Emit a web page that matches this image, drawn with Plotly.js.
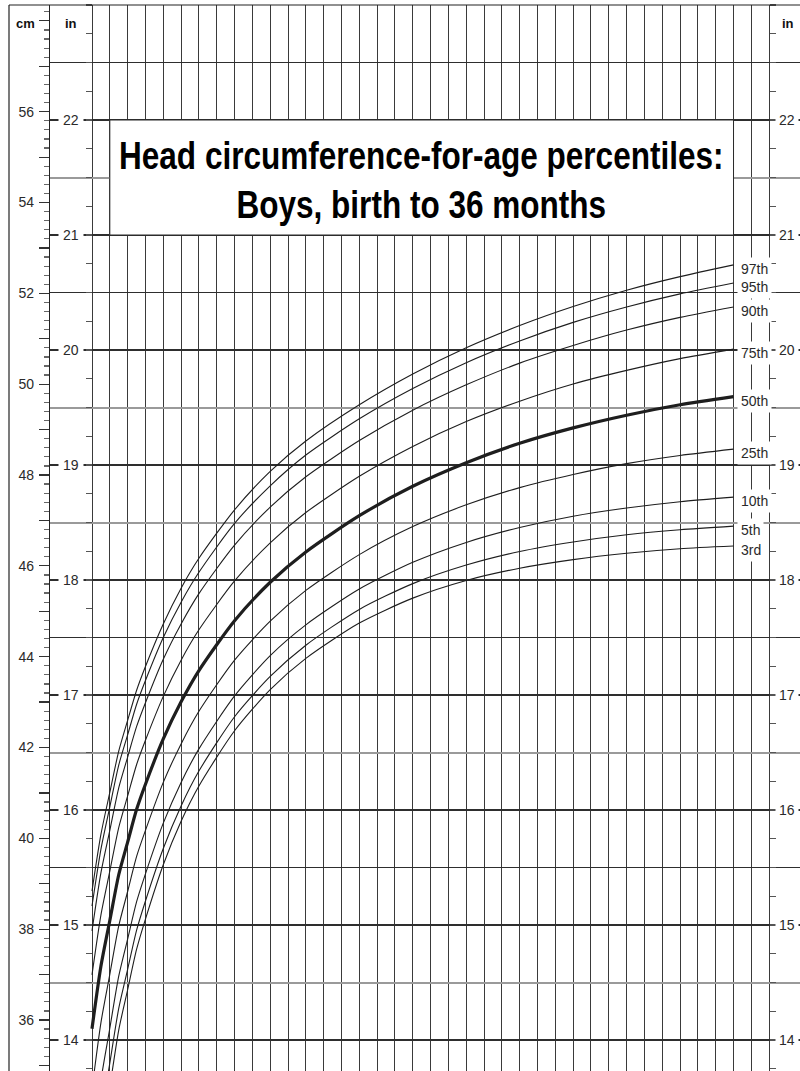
<!DOCTYPE html>
<html>
<head>
<meta charset="utf-8">
<script src="https://cdn.plot.ly/plotly-3.0.1.min.js"></script>
<style>
html,body{margin:0;padding:0;background:#fff;}
#chart{width:800px;height:1071px;}
</style>
</head>
<body>
<div id="chart"></div>
<script>
// Age in months
const ageMonths = [0,0.5,1,1.5,2,2.5,3,4,5,6,8,10,12,15,18,21,24,27,30,33,36];
// Head circumference percentiles (cm)
const p97 = [38.85,40.10,41.03,41.94,42.62,43.28,43.81,44.75,45.54,46.20,47.27,48.12,48.79,49.59,50.27,50.85,51.34,51.76,52.12,52.42,52.68];
const p95 = [38.52,39.77,40.71,41.63,42.30,42.97,43.50,44.45,45.23,45.89,46.97,47.80,48.48,49.28,49.95,50.52,51.00,51.41,51.75,52.04,52.28];
const p90 = [37.97,39.25,40.19,41.13,41.81,42.48,43.01,43.97,44.75,45.42,46.49,47.33,48.00,48.80,49.47,50.03,50.51,50.90,51.24,51.52,51.75];
const p75 = [37.00,38.32,39.29,40.25,40.95,41.64,42.18,43.15,43.95,44.62,45.70,46.54,47.21,48.01,48.67,49.22,49.67,50.05,50.35,50.61,50.82];
const p50 = [35.81,37.19,38.20,39.21,39.93,40.65,41.21,42.21,43.03,43.72,44.82,45.67,46.34,47.14,47.79,48.31,48.74,49.08,49.36,49.59,49.77];
const p25 = [34.47,35.94,37.01,38.08,38.84,39.61,40.19,41.25,42.10,42.82,43.95,44.81,45.49,46.28,46.90,47.38,47.76,48.05,48.29,48.47,48.61];
const p10 = [33.08,34.67,35.82,36.97,37.79,38.61,39.23,40.35,41.25,41.99,43.16,44.05,44.73,45.52,46.11,46.55,46.88,47.13,47.31,47.45,47.55];
const p5  = [32.15,33.83,35.05,36.26,37.12,37.98,38.63,39.79,40.73,41.50,42.70,43.59,44.28,45.07,45.64,46.05,46.35,46.56,46.72,46.83,46.91];
const p3  = [31.49,33.25,34.52,35.78,36.67,37.56,38.23,39.43,40.39,41.17,42.39,43.30,43.99,44.77,45.32,45.71,45.98,46.17,46.31,46.41,46.47];

const seriesNames = ['97th','95th','90th','75th','50th','25th','10th','5th','3rd'];
const seriesValues = [p97,p95,p90,p75,p50,p25,p10,p5,p3];

// Grid / tick definitions
const monthGrid = [0,1,2,3,4,5,6,7,8,9,10,11,12,13,14,15,16,17,18,19,20,21,22,23,24,25,26,27,28,29,30,31,32,33,34,35,36,37,38];
const inchDarkGrid = [14,15,15.5,16,17,17.5,18,19,20,20.5,21,22,22.5];
const inchLightGrid = [14.5,16.5,18.5,19.5,21.5];
const inchLabels = [14,15,16,17,18,19,20,21,22];
const cmTicks = [35,36,37,38,39,40,41,42,43,44,45,46,47,48,49,50,51,52,53,54,55,56,57,58];
const cmLabelled = [36,38,40,42,44,46,48,50,52,54,56];
const cmTickText = cmTicks.map(v => (cmLabelled.indexOf(v) >= 0 ? String(v) : ''));

const titleText = '<b>Head circumference-for-age percentiles:</b><br><b>Boys, birth to 36 months</b>';

const lineColor = '#1e1e1e';
const traces = seriesNames.map((name, i) => ({
  x: ageMonths,
  y: seriesValues[i],
  type: 'scatter',
  mode: 'lines',
  name: name,
  xaxis: 'x',
  yaxis: 'y',
  line: {color: lineColor, width: name === '50th' ? 3.2 : 1.1, shape: 'spline', smoothing: 0.7},
  hoverinfo: 'skip'
}));

const labelFont = {family: 'Liberation Sans, Arial, sans-serif', size: 14, color: '#2a2a2a'};

const annotations = [];
seriesNames.forEach((name, i) => {
  const vals = seriesValues[i];
  annotations.push({
    x: ageMonths[ageMonths.length - 1], xref: 'x',
    y: vals[vals.length - 1], yref: 'y',
    text: name, showarrow: false, xanchor: 'left', yanchor: 'middle',
    xshift: 3.5, yshift: -4,
    bgcolor: '#ffffff', borderpad: 3,
    font: labelFont
  });
});
inchLabels.forEach(v => {
  annotations.push({
    x: (70.5 - 50) / 750, xref: 'paper', y: v, yref: 'y2',
    text: String(v), showarrow: false, xanchor: 'center', yanchor: 'middle',
    bgcolor: '#ffffff', borderpad: 4, font: labelFont
  });
  annotations.push({
    x: (787 - 50) / 750, xref: 'paper', y: v, yref: 'y2',
    text: String(v), showarrow: false, xanchor: 'center', yanchor: 'middle',
    bgcolor: '#ffffff', borderpad: 3, font: labelFont
  });
});
const unitFont = {family: 'Liberation Sans, Arial, sans-serif', size: 13, color: '#111'};
annotations.push({x: (25 - 50) / 750, xref: 'paper', y: 1, yref: 'paper', yshift: -18,
  text: '<b>cm</b>', showarrow: false, xanchor: 'center', yanchor: 'middle', font: unitFont});
annotations.push({x: (70.5 - 50) / 750, xref: 'paper', y: 1, yref: 'paper', yshift: -18,
  text: '<b>in</b>', showarrow: false, xanchor: 'center', yanchor: 'middle', font: unitFont});
annotations.push({x: (788 - 50) / 750, xref: 'paper', y: 1, yref: 'paper', yshift: -18,
  text: '<b>in</b>', showarrow: false, xanchor: 'center', yanchor: 'middle', font: unitFont});
const titleIndex = annotations.length;
annotations.push({
  x: 18.5, xref: 'x', y: 21.5, yref: 'y2', yshift: -3,
  text: titleText, showarrow: false, xanchor: 'center', yanchor: 'middle',
  font: {family: 'Liberation Sans, Arial, sans-serif', size: 38, color: '#000'}
});

// condensed look for the title (the reference uses a narrow bold face)
const st = document.createElement('style');
st.textContent = '.annotation[data-index="' + titleIndex + '"] text{transform-box:fill-box;transform-origin:center;transform:scaleX(0.83);}';
document.head.appendChild(st);

const frameX = (9 - 50) / 750;
const shapes = [
  {type: 'rect', xref: 'x', yref: 'y2', x0: 1, x1: 36, y0: 21, y1: 22,
   fillcolor: '#ffffff', line: {color: '#2a2a2a', width: 1}, layer: 'above'},
  {type: 'line', xref: 'paper', yref: 'paper', x0: frameX, x1: 1, y0: 1, y1: 1,
   line: {color: '#222', width: 1.2}},
  {type: 'line', xref: 'paper', yref: 'paper', x0: frameX, x1: frameX, y0: 0, y1: 1,
   line: {color: '#222', width: 1.2}}
];

const layout = {
  width: 800, height: 1071,
  margin: {l: 50, r: 0, t: 5, b: 0, pad: 0},
  paper_bgcolor: '#ffffff', plot_bgcolor: '#ffffff',
  showlegend: false,
  xaxis: {
    range: [-2.357, 39.73], tickmode: 'array', tickvals: monthGrid,
    showticklabels: false, ticks: '', showgrid: true, gridcolor: '#3a3a3a', gridwidth: 1,
    zeroline: false, showline: false, fixedrange: true
  },
  yaxis: {
    range: [34.8755, 58.420], visible: false, showgrid: false, zeroline: false, fixedrange: true
  },
  yaxis2: {
    overlaying: 'y', anchor: 'free', position: (92 - 50) / 750, side: 'left',
    range: [13.7305, 23.0], tickmode: 'array', tickvals: inchDarkGrid,
    showticklabels: false, ticks: '', showgrid: true, gridcolor: '#2e2e2e', gridwidth: 1.2,
    zeroline: false, showline: false,
    minor: {tick0: 0, dtick: 0.25, ticks: 'outside', ticklen: 6, tickcolor: '#555', tickwidth: 1.2, showgrid: false}
  },
  yaxis3: {
    overlaying: 'y', anchor: 'free', position: (769 - 50) / 750, side: 'right',
    range: [13.7305, 23.0], tickmode: 'array', tickvals: inchLightGrid,
    showticklabels: false, ticks: '', showgrid: true, gridcolor: '#9a9a9a', gridwidth: 2,
    zeroline: false, showline: false,
    minor: {tick0: 0, dtick: 0.25, ticks: 'outside', ticklen: 6, tickcolor: '#555', tickwidth: 1.2, showgrid: false}
  },
  yaxis4: {
    overlaying: 'y', anchor: 'x', side: 'left',
    range: [34.877, 58.349], tickmode: 'array', tickvals: cmTicks, ticktext: cmTickText,
    ticks: 'outside', ticklen: 10, tickwidth: 1.2, tickcolor: '#333',
    showline: true, linecolor: '#222', linewidth: 1.2,
    showgrid: false, zeroline: false, ticklabelstandoff: 2,
    tickfont: {family: 'Liberation Sans, Arial, sans-serif', size: 14, color: '#2a2a2a'},
    minor: {tick0: 0, dtick: 0.2, ticks: 'outside', ticklen: 5, tickcolor: '#666', tickwidth: 1.2, showgrid: false}
  },
  shapes: shapes,
  annotations: annotations
};

const axisHolders = ['y2','y3','y4'].map(ax => ({
  x: [null], y: [null], type: 'scatter', mode: 'lines', xaxis: 'x', yaxis: ax, hoverinfo: 'skip', showlegend: false
}));

Plotly.newPlot('chart', traces.concat(axisHolders), layout, {displayModeBar: false, staticPlot: true});
</script>
</body>
</html>
